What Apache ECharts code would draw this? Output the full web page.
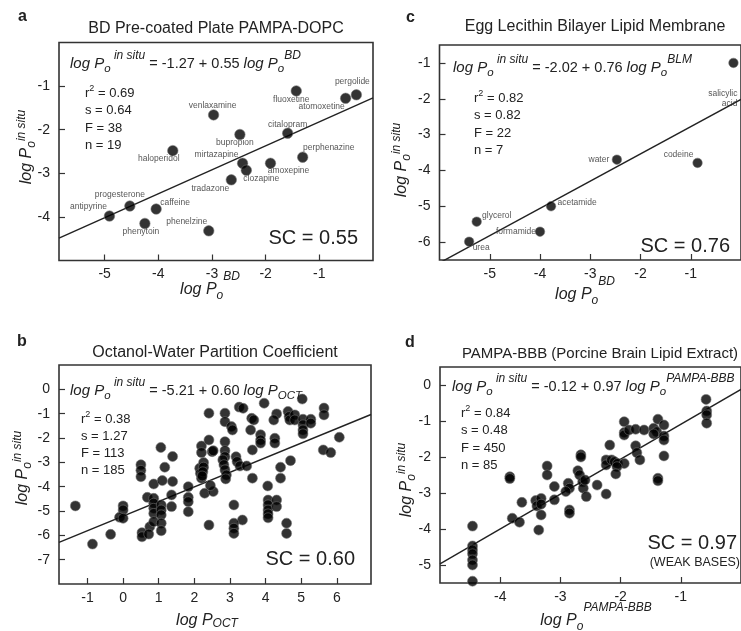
<!DOCTYPE html>
<html><head><meta charset="utf-8">
<script src="https://cdn.jsdelivr.net/npm/echarts@6/dist/echarts.min.js"></script>
<style>html,body{margin:0;padding:0;background:#fff}#c{width:741px;height:631px}</style>
</head><body><div id="c"></div>
<script>
const FONT = '"Liberation Sans", Arial, Helvetica, sans-serif';

// ---------- Panel a: BD Pre-coated Plate PAMPA-DOPC ----------
const aNames = ['antipyrine','progesterone','phenytoin','caffeine','haloperidol','phenelzine','venlaxamine','tradazone','bupropion','mirtazapine','clozapine','amoxepine','citalopram','perphenazine','fluoxetine','atomoxetine','pergolide'];
const aX = [-4.91,-4.53,-4.25,-4.04,-3.73,-3.06,-2.97,-2.64,-2.48,-2.43,-2.36,-1.91,-1.59,-1.31,-1.43,-0.51,-0.31];
const aY = [-3.98,-3.75,-4.15,-3.82,-2.48,-4.32,-1.66,-3.15,-2.11,-2.77,-2.93,-2.77,-2.08,-2.63,-1.11,-1.28,-1.20];
const aFit = [-1.27, 0.55];
const aStats = ['0.69','0.64','38','19'];
const aXTicks = [-5,-4,-3,-2,-1];
const aYTicks = [-1,-2,-3,-4];

// ---------- Panel c: Egg Lecithin BLM ----------
const cNames = ['salicylic\nacid','codeine','water','acetamide','glycerol','formamide','urea'];
const cX = [-0.15,-0.865,-2.47,-3.78,-5.26,-4.0,-5.41];
const cY = [-1.0,-3.79,-3.70,-5.0,-5.43,-5.71,-5.99];
const cFit = [-2.02, 0.76];
const cStats = ['0.82','0.82','22','7'];
const cXTicks = [-5,-4,-3,-2,-1];
const cYTicks = [-1,-2,-3,-4,-5,-6];

// ---------- Panel b: Octanol-Water ----------
const bPoints = [
[-1.34,-4.79],[-0.86,-6.36],[-0.35,-5.96],[0,-4.79],[0,-4.96],[-0.1,-5.26],[0,-5.3],
[0.5,-3.1],[0.5,-3.33],[0.5,-3.59],[0.53,-5.89],[0.53,-6.06],[0.75,-5.65],[0.72,-5.95],
[0.68,-4.44],[0.86,-3.89],[0.86,-4.48],[0.86,-4.68],[0.86,-4.89],[0.86,-5.1],[0.86,-5.44],
[1.06,-2.39],[1.1,-3.75],[1.07,-4.75],[1.07,-4.96],[1.07,-5.16],[1.07,-5.5],[1.07,-5.81],
[1.17,-3.2],[1.39,-2.76],[1.39,-3.79],[1.36,-4.34],[1.36,-4.82],
[1.83,-4.0],[1.83,-4.44],[1.83,-4.62],[1.83,-5.03],
[2.2,-2.33],[2.2,-2.6],[2.41,-0.98],[2.41,-2.08],[2.41,-5.58],
[2.15,-3.24],[2.17,-3.45],[2.2,-3.65],[2.26,-3.01],[2.26,-3.2],[2.29,-4.27],[2.5,-2.56],
[2.24,-3.39],[2.22,-3.56],[2.53,-4.2],[2.45,-3.95],
[2.86,-0.98],[2.86,-1.33],[3.04,-1.53],[3.07,-1.67],[3.26,-0.73],[3.37,-0.78],[3.96,-0.57],
[3.61,-1.19],[3.67,-1.26],[3.58,-1.67],[3.86,-1.87],[3.86,-2.08],[3.86,-2.21],[4.26,-2.01],[4.26,-2.21],
[4.31,-1.01],[4.23,-1.26],[4.63,-0.91],[4.66,-1.12],[4.68,-1.26],[4.82,-1.05],[4.82,-1.26],
[5.03,-0.4],[5.05,-1.23],[5.05,-1.46],[5.05,-1.67],[5.05,-1.83],[5.27,-1.23],[5.27,-1.39],
[5.64,-0.77],[5.64,-1.05],[6.07,-1.97],[5.62,-2.49],[5.83,-2.6],
[2.86,-2.15],[2.53,-2.52],[2.86,-2.52],[2.86,-2.77],
[2.8,-2.9],[2.83,-3.1],[2.86,-3.31],[2.9,-3.52],[2.88,-3.68],[3.17,-2.77],[3.2,-2.97],[3.28,-3.15],[3.47,-3.15],
[3.63,-2.49],[3.63,-3.65],[4.06,-3.97],[4.42,-3.2],[4.42,-3.65],[4.7,-2.93],
[3.11,-4.75],[3.35,-5.37],[3.11,-5.5],[3.11,-5.71],[3.11,-5.92],
[4.07,-4.55],[4.07,-4.75],[4.07,-4.96],[4.07,-5.12],[4.07,-5.28],[4.31,-4.55],[4.31,-4.82],
[4.59,-5.5],[4.59,-5.92]
];
const bFit = [-5.21, 0.60];
const bStats = ['0.38','1.27','113','185'];
const bXTicks = [-1,0,1,2,3,4,5,6];
const bYTicks = [0,-1,-2,-3,-4,-5,-6,-7];

// ---------- Panel d: PAMPA-BBB ----------
const dPoints = [
[-4.46,-3.92],[-4.46,-4.47],[-4.46,-4.58],[-4.46,-4.69],[-4.46,-4.86],[-4.46,-5.0],[-4.46,-5.45],
[-3.84,-2.55],[-3.84,-2.6],[-3.8,-3.7],[-3.68,-3.81],[-3.64,-3.26],
[-3.41,-3.21],[-3.39,-3.36],[-3.32,-3.15],[-3.32,-3.31],[-3.32,-3.61],[-3.36,-4.03],
[-3.22,-2.25],[-3.22,-2.5],[-3.1,-2.82],[-3.1,-3.19],
[-2.87,-2.73],[-2.85,-2.87],[-2.91,-2.96],[-2.85,-3.47],[-2.85,-3.56],
[-2.66,-1.94],[-2.66,-2.0],[-2.71,-2.38],[-2.68,-2.5],[-2.63,-2.69],[-2.62,-2.87],[-2.57,-3.1],[-2.59,-2.64],
[-2.39,-2.78],[-2.24,-3.03],[-2.24,-2.08],[-2.24,-2.22],[-2.18,-1.67],[-2.15,-2.08],[-2.1,-2.13],[-2.05,-2.18],[-1.94,-2.18],[-2.06,-2.27],[-2.08,-2.47],
[-1.94,-1.02],[-1.94,-1.32],[-1.94,-1.39],[-1.86,-1.25],[-1.75,-1.23],[-1.61,-1.25],
[-1.75,-1.69],[-1.73,-1.88],[-1.68,-2.08],
[-1.45,-1.2],[-1.40,-1.3],[-1.45,-1.36],[-1.38,-0.95],[-1.28,-1.11],[-1.28,-1.42],[-1.28,-1.53],[-1.28,-1.97],[-1.38,-2.59],[-1.38,-2.66],
[-0.58,-0.4],[-0.57,-0.72],[-0.57,-0.83],[-0.57,-1.06]
];
const dFit = [-0.12, 0.97];
const dStats = ['0.84','0.48','450','85'];
const dXTicks = [-4,-3,-2,-1];
const dYTicks = [0,-1,-2,-3,-4,-5];

// ---------- label placement (style only) ----------
const aLabelOffsets = {antipyrine:[-21,-9], progesterone:[-10,-11], phenytoin:[-4,8], caffeine:[19,-6], haloperidol:[-14,8], phenelzine:[-22,-9], venlaxamine:[-1,-9], tradazone:[-21,9], bupropion:[-5,8], mirtazapine:[-26,-9], clozapine:[15,8], amoxepine:[18,7], citalopram:[0,-9], perphenazine:[26,-10], fluoxetine:[-5,9], atomoxetine:[-24,8], pergolide:[-4,-13]};
const cLabelOffsets = {'salicylic\nacid':[4,36,'right'], codeine:[-19,-8], water:[-18,0], acetamide:[26,-4], glycerol:[20,-6], formamide:[-24,0], urea:[12,6]};

// ---------- layout ----------
const panels = [
  {grid:{left:59, top:42.5, width:314, height:218}, x:[-5.85,0], y:[-5,0], xt:aXTicks, yt:aYTicks, fit:aFit},
  {grid:{left:439.5, top:45, width:311, height:215}, x:[-6,0], y:[-6.5,-0.5], xt:cXTicks, yt:cYTicks, fit:cFit},
  {grid:{left:59, top:365, width:312, height:219}, x:[-1.8,6.96], y:[-8,1], xt:bXTicks, yt:bYTicks, fit:bFit},
  {grid:{left:440, top:367, width:311, height:216}, x:[-5,0], y:[-5.5,0.5], xt:dXTicks, yt:dYTicks, fit:dFit}
];

const INK = '#222';
const tickStyle = {color:'#333', width:1.2};
const grids = [], xAxes = [], yAxes = [], series = [];
panels.forEach((p, i) => {
  grids.push(Object.assign({show:true, borderColor:'#333', borderWidth:1.6, backgroundColor:'transparent', containLabel:false}, p.grid));
  xAxes.push({type:'value', gridIndex:i, min:p.x[0], max:p.x[1],
    axisLine:{show:false, onZero:false}, splitLine:{show:false},
    axisTick:{show:true, inside:true, length:6, customValues:p.xt, lineStyle:tickStyle},
    axisLabel:{customValues:p.xt, margin:7, fontSize:14, color:INK, fontFamily:FONT}});
  yAxes.push({type:'value', gridIndex:i, min:p.y[0], max:p.y[1],
    axisLine:{show:false, onZero:false}, splitLine:{show:false},
    axisTick:{show:true, inside:true, length:6, customValues:p.yt, lineStyle:tickStyle},
    axisLabel:{customValues:p.yt, margin:9, fontSize:14, color:INK, fontFamily:FONT}});
  const [b0, b1] = p.fit;
  series.push({type:'line', xAxisIndex:i, yAxisIndex:i, symbol:'none', silent:true, z:1, clip:true,
    lineStyle:{color:INK, width:1.4},
    data:[[p.x[0], b0 + b1*p.x[0]], [p.x[1], b0 + b1*p.x[1]]]});
});

const dotStyle = {color:'#000', borderColor:'#777', borderWidth:0.7};
function labelled(names, xs, ys, offs) {
  return names.map((n, k) => {
    const o = offs[n];
    return {name:n, value:[xs[k], ys[k]], label:{offset:[o[0], o[1]], align:o[2] || 'center'}};
  });
}
series.push({type:'scatter', xAxisIndex:0, yAxisIndex:0, z:3, symbolSize:10.5, itemStyle:dotStyle,
  label:{show:true, position:'inside', formatter:'{b}', fontSize:8.5, color:'#2a2a2a', fontFamily:FONT},
  data:labelled(aNames, aX, aY, aLabelOffsets)});
series.push({type:'scatter', xAxisIndex:1, yAxisIndex:1, z:3, symbolSize:9.5, itemStyle:dotStyle,
  label:{show:true, position:'inside', formatter:'{b}', fontSize:8.5, lineHeight:10, color:'#2a2a2a', fontFamily:FONT},
  data:labelled(cNames, cX, cY, cLabelOffsets)});
series.push({type:'scatter', xAxisIndex:2, yAxisIndex:2, z:3, symbolSize:10, itemStyle:dotStyle, data:bPoints});
series.push({type:'scatter', xAxisIndex:3, yAxisIndex:3, z:3, symbolSize:10, itemStyle:dotStyle, data:dPoints});

// ---------- text ----------
function tok(sz, italic, extra) {
  return Object.assign({fontSize:sz, fontStyle:italic ? 'italic' : 'normal', fontFamily:FONT, fill:INK, color:INK, verticalAlign:'middle'}, extra || {});
}
// sub/superscripts: shifted with asymmetric padding (middle alignment)
const RICH = {
  i: tok(15, true, {lineHeight:18}),
  n: tok(14.5, false, {lineHeight:18}),
  sub: tok(11.5, true, {lineHeight:13, padding:[10,0,0,0]}),
  sup: tok(12, true, {lineHeight:13, padding:[0,0,16,0]}),
  s: tok(13, false, {lineHeight:16}),
  s2: tok(9, false, {lineHeight:10, padding:[0,0,9,0]}),
  ai: tok(16, true, {lineHeight:19}),
  asub: tok(12, true, {lineHeight:13, padding:[12,0,0,0]}),
  asub2: tok(12, true, {lineHeight:13, padding:[6,0,0,0]}),
  asup: tok(12, true, {lineHeight:13, padding:[0,0,27,0]}),
  ysub: tok(12, true, {lineHeight:13, padding:[9,0,0,0]}),
  ysup: tok(12, true, {lineHeight:13, padding:[0,0,11,0]})
};
function T(x, y, text, o) {
  o = o || {};
  const el = {type:'text', x:x, y:y, z:100, silent:true,
    style:{text:text, rich:RICH, fill:INK, fontFamily:FONT, fontSize:o.size || 14, fontWeight:o.weight || 'normal',
      align:o.align || 'left', verticalAlign:'middle', textAlign:o.align || 'left', textVerticalAlign:'middle'}};
  if (o.rot) el.rotation = o.rot;
  return el;
}
const fmt = v => (v < 0 ? '-' : '') + Math.abs(v).toFixed(2);
function eqText(fit, rhsTail) {
  return '{i|log P}{sub|o}{sup| in situ}{n| = ' + fmt(fit[0]) + ' + ' + fit[1].toFixed(2) + ' }' + rhsTail;
}
function statLines(st, x, y0, dy) {
  return [
    T(x, y0, '{s|r}{s2|2}{s| = ' + st[0] + '}'),
    T(x, y0 + dy, '{s|s = ' + st[1] + '}'),
    T(x, y0 + 2*dy, '{s|F = ' + st[2] + '}'),
    T(x, y0 + 3*dy, '{s|n = ' + st[3] + '}')
  ];
}
const yName = '{ai|log P}{ysub|o}{ysup|in situ}';
const graphics = [
  T(18, 17, 'a', {size:16, weight:'bold'}),
  T(406, 18, 'c', {size:16, weight:'bold'}),
  T(17, 342, 'b', {size:16, weight:'bold'}),
  T(405, 343, 'd', {size:16, weight:'bold'}),
  T(216, 29, 'BD Pre-coated Plate PAMPA-DOPC', {size:16, align:'center'}),
  T(595, 27, 'Egg Lecithin Bilayer Lipid Membrane', {size:16, align:'center'}),
  T(215, 353, 'Octanol-Water Partition Coefficient', {size:16, align:'center'}),
  T(600, 354, 'PAMPA-BBB (Porcine Brain Lipid Extract)', {size:15, align:'center'}),
  T(70, 64, eqText(aFit, '{i|log P}{sub|o}{sup|BD}')),
  T(453, 68, eqText(cFit, '{i|log P}{sub|o}{sup|BLM}')),
  T(70, 391, eqText(bFit, '{i|log P}{sub|OCT}')),
  T(452, 387, eqText(dFit, '{i|log P}{sub|o}{sup|PAMPA-BBB}')),
  ...statLines(aStats, 85, 93, 17.6),
  ...statLines(cStats, 474, 98, 17.6),
  ...statLines(bStats, 81, 419, 17.3),
  ...statLines(dStats, 461, 413, 17.6),
  T(358, 238, 'SC = 0.55', {size:20, align:'right'}),
  T(730, 246, 'SC = 0.76', {size:20, align:'right'}),
  T(355, 559, 'SC = 0.60', {size:20, align:'right'}),
  T(737, 543, 'SC = 0.97', {size:20, align:'right'}),
  T(740, 563, '(WEAK BASES)', {size:12.5, align:'right'}),
  T(210, 290, '{ai|log P}{asub|o}{asup|BD}', {align:'center'}),
  T(585, 295, '{ai|log P}{asub|o}{asup|BD}', {align:'center'}),
  T(207, 621, '{ai|log P}{asub2|OCT}', {align:'center'}),
  T(596, 621, '{ai|log P}{asub|o}{asup|PAMPA-BBB}', {align:'center'}),
  T(27, 147, yName, {align:'center', rot:Math.PI/2}),
  T(402, 160, yName, {align:'center', rot:Math.PI/2}),
  T(23, 468, yName, {align:'center', rot:Math.PI/2}),
  T(407, 480, yName, {align:'center', rot:Math.PI/2})
];

const chart = echarts.init(document.getElementById('c'), null, {renderer:'canvas'});
chart.setOption({
  animation:false,
  backgroundColor:'#fff',
  textStyle:{fontFamily:FONT},
  grid:grids, xAxis:xAxes, yAxis:yAxes, series:series, graphic:graphics
});
</script>
</body></html>
